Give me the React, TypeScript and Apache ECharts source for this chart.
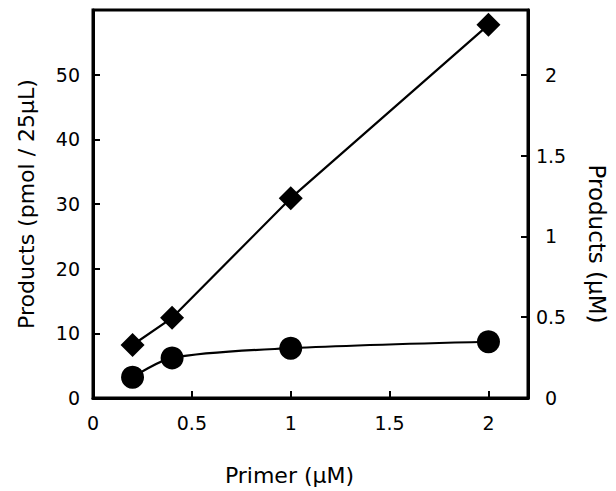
import React, { useEffect, useRef } from "react";
import * as echarts from "echarts";

const primer = [0.2, 0.4, 1, 2];
const diamondValues = [8.2, 12.4, 30.9, 57.7];
const circleValues = [3.2, 6.2, 7.7, 8.7];
const xTitle = "Primer (µM)";
const yLeftTitle = "Products (pmol / 25µL)";
const yRightTitle = "Products (µM)";

const FONT = "DejaVu Sans";

if (typeof document !== "undefined") {
  document.documentElement.style.margin = "0";
  document.documentElement.style.overflow = "hidden";
  document.body.style.margin = "0";
  document.body.style.overflow = "hidden";
}

export default function App() {
  const ref = useRef<HTMLDivElement>(null);
  useEffect(() => {
    const chart = echarts.init(ref.current!, null, { renderer: "svg" });
    const axisLine = { show: true, lineStyle: { color: "#000", width: 3 } };
    const axisTick = { show: true, inside: true, length: 7, lineStyle: { color: "#000", width: 2 } };
    const label = { color: "#000", fontSize: 19, fontFamily: FONT };
    chart.setOption({
      animation: false,
      backgroundColor: "#fff",
      grid: {
        left: 93,
        right: 81,
        top: 10,
        bottom: 91,
        show: true,
        borderColor: "#000",
        borderWidth: 3,
        containLabel: false,
      },
      xAxis: {
        type: "value",
        min: 0,
        max: 2.2,
        interval: 0.5,
        axisLine,
        axisTick,
        splitLine: { show: false },
        axisLabel: { ...label, margin: 15, showMaxLabel: false },
        name: xTitle,
        nameLocation: "middle",
        nameGap: 66,
        nameTextStyle: { color: "#000", fontSize: 22, fontFamily: FONT, padding: [0, 42, 0, 0] },
      },
      yAxis: [
        {
          type: "value",
          position: "left",
          min: 0,
          max: 60,
          interval: 10,
          axisLine,
          axisTick,
          splitLine: { show: false },
          axisLabel: { ...label, margin: 13, showMaxLabel: false },
          name: yLeftTitle,
          nameLocation: "middle",
          nameRotate: 90,
          nameGap: 56,
          nameTextStyle: { color: "#000", fontSize: 22, fontFamily: FONT, padding: [0, 0, 0, 0] },
        },
        {
          type: "value",
          position: "right",
          min: 0,
          max: 2.4,
          interval: 0.5,
          axisLine,
          axisTick,
          splitLine: { show: false },
          axisLabel: { ...label, margin: 23, align: "center", showMaxLabel: false },
          name: yRightTitle,
          nameLocation: "middle",
          nameRotate: -90,
          nameGap: 57,
          nameTextStyle: { color: "#000", fontSize: 23, fontFamily: FONT, padding: [0, 0, 0, 80] },
        },
      ],
      series: [
        {
          type: "line",
          yAxisIndex: 0,
          data: primer.map((x, i) => [x, diamondValues[i]]),
          symbol: "diamond",
          symbolSize: 24,
          itemStyle: { color: "#000" },
          lineStyle: { color: "#000", width: 2.2 },
          z: 3,
        },
        {
          type: "line",
          yAxisIndex: 0,
          data: primer.map((x, i) => [x, circleValues[i]]),
          symbol: "circle",
          symbolSize: 23,
          smooth: 0.3,
          itemStyle: { color: "#000" },
          lineStyle: { color: "#000", width: 2.2 },
          z: 3,
        },
      ],
    });
    return () => chart.dispose();
  }, []);
  return (
    <div
      ref={ref}
      style={{ position: "absolute", left: 0, top: 0, width: 616, height: 491 }}
    />
  );
}
